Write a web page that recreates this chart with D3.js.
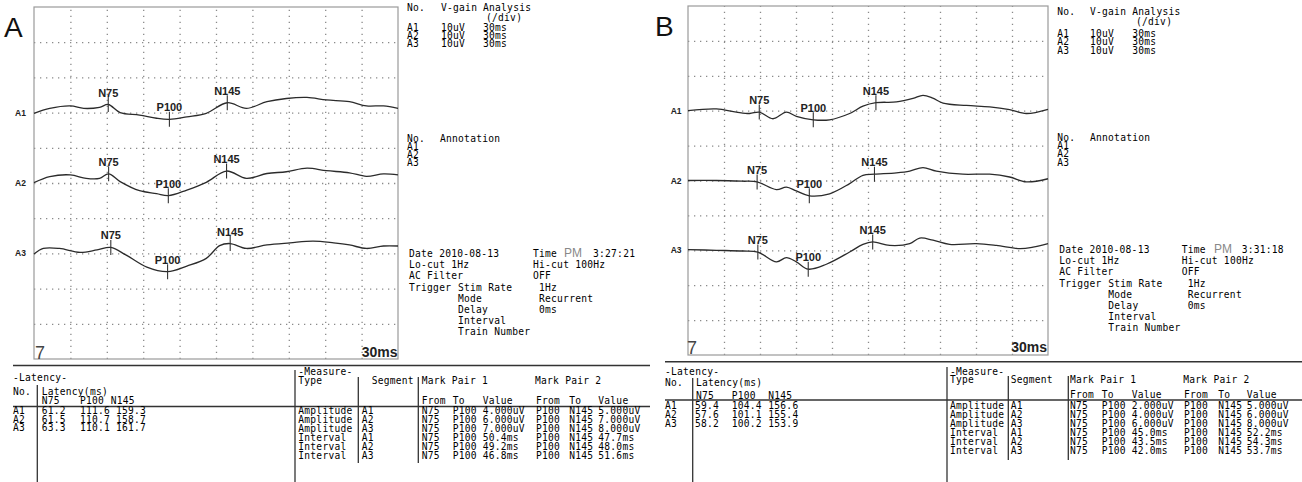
<!DOCTYPE html>
<html>
<head>
<meta charset="utf-8">
<script src="https://cdn.jsdelivr.net/npm/d3@7"></script>
<style>
  body { margin: 0; background: #fff; }
  svg { display: block; }
  .mono { font-family: "DejaVu Sans Mono", monospace; font-size: 9.6px; letter-spacing: 0.25px; fill: #000; }
  .peak { font-family: "Liberation Sans", Arial, sans-serif; font-size: 11px; font-weight: bold; fill: #222; }
  .chan { font-family: "Liberation Sans", Arial, sans-serif; font-size: 8.5px; font-weight: bold; fill: #222; }
</style>
</head>
<body>
<svg id="chart"></svg>
<script>
// ---- data ----
const channels = ["A1", "A2", "A3"]
const peakNames = ["N75", "P100", "N145"]
const divTicks = d3.range(0, 301, 30)      // 30 ms / div
const voltTicks = d3.range(-50, 51, 10)    // 10 uV / div
const channelOffset = [20, 0, -20]         // uV, baseline of each channel

// panel A traces (time ms, deflection uV, up = positive)
const tA1 = [0, 13, 30, 41, 54, 61.2, 71, 87, 101, 111.6, 126, 142, 159.3, 175, 192, 208, 225, 241, 260, 274, 288, 300]
const vA1 = [-0.2, 1.2, 1.9, 1.2, 1.5, 2.3, 0, -0.7, -1.6, -1.9, -1.2, -0.2, 2.8, 1.2, 3.1, 4.0, 4.3, 3.6, 3.1, 1.9, 1.9, 1.2]
const tA2 = [0, 13, 30, 43, 54, 61.5, 71, 87, 101, 110.7, 126, 142, 158.7, 175, 192, 208, 225, 241, 260, 274, 288, 300]
const vA2 = [0.1, 1.8, 2.3, 1.3, 1.3, 2.6, 0.4, -2.2, -3.0, -3.6, -2.0, 0.2, 3.4, 1.3, 2.7, 3.2, 4.2, 3.5, 2.9, 1.9, 2.6, 2.3]
const tA3 = [0, 7.7, 21, 38, 52, 63.3, 76, 93, 110.1, 126, 142, 153, 161.7, 175, 192, 211, 230, 247, 260, 274, 288, 300]
const vA3 = [-0.2, 1.4, 1.4, 0.3, 1.0, 1.7, -0.5, -3.9, -5.2, -3.6, -1.4, 2.2, 2.8, 1.4, 2.4, 3.0, 3.5, 3.0, 2.4, 1.4, 2.1, 2.1]

// panel B traces
const tB1 = [0, 23.7, 40.3, 51.4, 59.4, 70.8, 82, 90.3, 104.4, 118, 134.7, 145.8, 156.6, 173.7, 187.5, 195.8, 204, 212.5, 232, 251.4, 268, 282, 300]
const vB1 = [0, 0.5, -0.4, -0.8, -0.4, -2.3, -0.4, -1.6, -2.6, -2.6, -0.8, 1.3, 2.3, 2.5, 3.5, 4.4, 3.6, 2.2, 1.5, 1.1, 0.3, -0.8, 0.4]
const tB2 = [0, 23.7, 45, 57.6, 73.7, 82, 90.3, 101.1, 118, 134.7, 145.8, 155.4, 173.7, 184.8, 195.8, 207, 229, 251.4, 268, 282, 300]
const vB2 = [0, 0, -0.2, -0.4, -2.6, -1.9, -3.0, -4.4, -3.8, -0.9, 1.5, 1.8, 2.2, 2.7, 3.7, 2.7, 1.8, 1.8, 1.0, -0.4, 0.5]
const tB3 = [0, 23.7, 45.8, 58.2, 73.7, 82, 90.3, 100.2, 115.3, 134.7, 145.8, 153.9, 168.1, 184.8, 193.1, 204.2, 218, 240.3, 257, 276.4, 287.5, 300]
const vB3 = [0.2, 0, -0.2, -0.5, -3.3, -2.1, -3.3, -5.4, -4.0, -0.5, 1.7, 2.4, 1.4, 1.9, 3.5, 2.9, 1.7, 1.9, 1.4, 0.5, 0.9, 1.9]

// latency tables (ms)
const latencyA = [[61.2, 111.6, 159.3], [61.5, 110.7, 158.7], [63.3, 110.1, 161.7]]
const latencyB = [[59.4, 104.4, 156.6], [57.6, 101.1, 155.4], [58.2, 100.2, 153.9]]

// measure tables
const measureType = ["Amplitude", "Amplitude", "Amplitude", "Interval", "Interval", "Interval"]
const measureSeg = ["A1", "A2", "A3", "A1", "A2", "A3"]
const pair1A = ["4.000uV", "6.000uV", "7.000uV", "50.4ms", "49.2ms", "46.8ms"]
const pair2A = ["5.000uV", "7.000uV", "8.000uV", "47.7ms", "48.0ms", "51.6ms"]
const pair1B = ["2.000uV", "4.000uV", "6.000uV", "45.0ms", "43.5ms", "42.0ms"]
const pair2B = ["5.000uV", "6.000uV", "8.000uV", "52.2ms", "54.3ms", "53.7ms"]

const vGain = ["10uV", "10uV", "10uV"]
const analysis = ["30ms", "30ms", "30ms"]
const recDate = ["2010-08-13", "2010-08-13"]
const recTime = ["3:27:21", "3:31:18"]
const triggerKeys = ["Stim Rate", "Mode", "Delay", "Interval", "Train Number"]
const triggerVals = ["1Hz", "Recurrent", "0ms", "", ""]

// ---- layout ----
const W = 1302, H = 482
const svg = d3.select("#chart").attr("width", W).attr("height", H)

const panels = [
  {
    letter: "A", traces: [[tA1, vA1], [tA2, vA2], [tA3, vA3]], latency: latencyA, pair1: pair1A, pair2: pair2A,
    date: recDate[0], time: recTime[0],
    grid: { x0: 34, x1: 398, y0: 7, y1: 359 }, letterPos: [4, 37], chanX: 15,
    info: { c0: 407, c1: 441, c2: 483, div: 486, head: 11, divY: 20.5, rows: [30.5, 38.8, 47] },
    annot: { c0: 407, c1: 440, rows: [142, 150, 158, 166] },
    dateBlk: { c0: 409, c1: 458, c2: 533, c3: 539, pm: 564, tm: 593, y: 257, dy: 11.2 },
    sep: { y: 365.5, x0: 13, x1: 650 },
    lat: { x: 13, title: 381, head: 394.5, col: [41.7, 80, 110.7], colV: [41.7, 80, 116], sub: 404, line: 406.5, lineX: [13, 650], rows: [414, 422.5, 431], vx: 37.3, vy: 385 },
    divider: { x: 295, y: 370 },
    meas: { x: 298.3, title: 375, head: 384, seg: 371.7, segV: 361.7, mp1: 421.7, mp2: 535, cols: [421.7, 452.7, 482.7, 536, 569.3, 598.3], sub: 403.7, row0: 414, dy: 9, v1: 358.3, v2: 418.3, vy: [377, 463] },
    seven: [35, 359], scale: [397.5, 356.5]
  },
  {
    letter: "B", traces: [[tB1, vB1], [tB2, vB2], [tB3, vB3]], latency: latencyB, pair1: pair1B, pair2: pair2B,
    date: recDate[1], time: recTime[1],
    grid: { x0: 688, x1: 1048, y0: 6, y1: 355 }, letterPos: [655, 36], chanX: 670.7,
    info: { c0: 1057.3, c1: 1090, c2: 1132.3, div: 1136, head: 14.5, divY: 24.5, rows: [37, 45.3, 53.6] },
    annot: { c0: 1057.3, c1: 1090, rows: [140.7, 149, 157.3, 165.5] },
    dateBlk: { c0: 1059.3, c1: 1108.3, c2: 1181.7, c3: 1187.7, pm: 1214, tm: 1241.7, y: 253, dy: 11.2 },
    sep: { y: 361.7, x0: 665, x1: 1302 },
    lat: { x: 665, title: 375, head: 385.7, col: [696, 731.7, 768.3], colV: [695, 731.7, 768.3], sub: 398.5, line: 400, lineX: [665, 1302], rows: [409, 418, 427], vx: 692.7, vy: 378 },
    divider: { x: 947, y: 367 },
    meas: { x: 950, title: 375, head: 383, seg: 1010.7, segV: 1010.7, mp1: 1070, mp2: 1183.3, cols: [1070, 1101.7, 1131.7, 1184, 1218.3, 1246.7], sub: 398, row0: 408.5, dy: 9.1, v1: 1008.3, v2: 1068.3, vy: [376, 460] },
    seven: [687, 354], scale: [1047, 351.7]
  }
]

const txt = (g, x, y, s, cls = "mono") => g.append("text").attr("class", cls).attr("x", x).attr("y", y).text(s)
const hline = (g, x0, x1, y, w = 1.3) => g.append("line").attr("x1", x0).attr("x2", x1).attr("y1", y).attr("y2", y).attr("stroke", "#333").attr("stroke-width", w)
const vline = (g, x, y0, y1, w = 1.3) => g.append("line").attr("x1", x).attr("x2", x).attr("y1", y0).attr("y2", y1).attr("stroke", "#333").attr("stroke-width", w)

panels.forEach(p => {
  const g = svg.append("g")
  const { x0, x1, y0, y1 } = p.grid
  const x = d3.scaleLinear().domain([0, 300]).range([x0, x1])
  const y = d3.scaleLinear().domain([50, -50]).range([y0, y1])

  // dotted grid
  const gx = g.append("g").attr("transform", `translate(0,${y1})`)
    .call(d3.axisBottom(x).tickValues(divTicks.slice(1, -1)).tickSize(-(y1 - y0)).tickFormat(""))
  const gy = g.append("g").attr("transform", `translate(${x0},0)`)
    .call(d3.axisLeft(y).tickValues(voltTicks.slice(1, -1)).tickSize(-(x1 - x0)).tickFormat(""))
  ;[gx, gy].forEach(a => {
    a.select(".domain").remove()
    a.selectAll(".tick line").attr("stroke", "#8a8a8a").attr("stroke-width", 1.3).attr("stroke-dasharray", "1.3,4.7")
  })
  g.append("rect").attr("x", x0).attr("y", y0).attr("width", x1 - x0).attr("height", y1 - y0)
    .attr("fill", "none").attr("stroke", "#9a9a9a").attr("stroke-width", 1.2)

  // traces
  const line = d3.line().curve(d3.curveCatmullRom.alpha(0.5))
  p.traces.forEach(([ts, vs], ci) => {
    const pts = ts.map((t, i) => [x(t), y(channelOffset[ci] + vs[i])])
    g.append("path").attr("d", line(pts)).attr("fill", "none").attr("stroke", "#2b2b2b").attr("stroke-width", 1.3)
    txt(g, p.chanX, y(channelOffset[ci]) + 3, channels[ci], "chan")

    p.latency[ci].forEach((lat, k) => {
      const idx = ts.indexOf(lat)
      const py = y(channelOffset[ci] + vs[idx])
      vline(g, x(lat), py - 7.5, py + 7.5, 1.1)
      txt(g, x(lat), py - 8, peakNames[k], "peak").attr("text-anchor", "middle")
    })
  })

  // corner marks
  g.append("text").attr("x", p.seven[0]).attr("y", p.seven[1]).text("7")
    .style("font-family", "Liberation Sans, Arial, sans-serif").style("font-size", "18px").style("fill", "#444")
  g.append("text").attr("x", p.scale[0]).attr("y", p.scale[1]).attr("text-anchor", "end").text(divTicks[1] + "ms")
    .style("font-family", "Liberation Sans, Arial, sans-serif").style("font-size", "14px").style("font-weight", "bold").style("fill", "#222")

  // panel letter
  g.append("text").attr("x", p.letterPos[0]).attr("y", p.letterPos[1]).text(p.letter)
    .style("font-family", "Liberation Sans, Arial, sans-serif").style("font-size", "28px").style("fill", "#111")

  // info block
  const inf = p.info
  txt(g, inf.c0, inf.head, "No.")
  txt(g, inf.c1, inf.head, "V-gain")
  txt(g, inf.c2, inf.head, "Analysis")
  txt(g, inf.div, inf.divY, "(/div)")
  channels.forEach((c, i) => {
    txt(g, inf.c0, inf.rows[i], c)
    txt(g, inf.c1, inf.rows[i], vGain[i])
    txt(g, inf.c2, inf.rows[i], analysis[i])
  })
  const an = p.annot
  txt(g, an.c0, an.rows[0], "No.")
  txt(g, an.c1, an.rows[0], "Annotation")
  channels.forEach((c, i) => txt(g, an.c0, an.rows[i + 1], c))

  // recording settings
  const d = p.dateBlk
  txt(g, d.c0, d.y, "Date " + p.date)
  txt(g, d.c2, d.y, "Time")
  g.append("text").attr("x", d.pm).attr("y", d.y).text("PM")
    .style("font-family", "Liberation Sans, Arial, sans-serif").style("font-size", "12px").style("fill", "#888")
  txt(g, d.tm, d.y, p.time)
  txt(g, d.c0, d.y + d.dy, "Lo-cut 1Hz")
  txt(g, d.c2, d.y + d.dy, "Hi-cut 100Hz")
  txt(g, d.c0, d.y + 2 * d.dy, "AC Filter")
  txt(g, d.c2, d.y + 2 * d.dy, "OFF")
  txt(g, d.c0, d.y + 3 * d.dy, "Trigger")
  triggerKeys.forEach((k, i) => {
    txt(g, d.c1, d.y + (3 + i) * d.dy, k)
    if (triggerVals[i]) txt(g, d.c3, d.y + (3 + i) * d.dy, triggerVals[i])
  })

  // separator
  hline(g, p.sep.x0, p.sep.x1, p.sep.y, 1.6)

  // latency table
  const L = p.lat
  txt(g, L.x, L.title, "-Latency-")
  txt(g, L.x, L.head, "No.")
  txt(g, L.col[0], L.head, "Latency(ms)")
  peakNames.forEach((n, k) => txt(g, L.col[k], L.sub, n))
  hline(g, L.lineX[0], L.lineX[1], L.line)
  vline(g, L.vx, L.vy, H)
  channels.forEach((c, i) => {
    txt(g, L.x, L.rows[i], c)
    p.latency[i].forEach((v, k) => txt(g, L.colV[k], L.rows[i], v.toFixed(1)))
  })
  vline(g, p.divider.x, p.divider.y, H)

  // measure table
  const M = p.meas
  txt(g, M.x, M.title, "-Measure-")
  txt(g, M.x, M.head, "Type")
  txt(g, M.seg, M.head, "Segment")
  txt(g, M.mp1, M.head, "Mark Pair 1")
  txt(g, M.mp2, M.head, "Mark Pair 2")
  ;["From", "To", "Value", "From", "To", "Value"].forEach((s, k) => txt(g, M.cols[k], M.sub, s))
  vline(g, M.v1, M.vy[0], M.vy[1])
  vline(g, M.v2, M.vy[0], M.vy[1])
  measureType.forEach((t, i) => {
    const ry = M.row0 + i * M.dy
    txt(g, M.x, ry, t)
    txt(g, M.segV, ry, measureSeg[i])
    const pr1 = [peakNames[0], peakNames[1], p.pair1[i]]
    const pr2 = [peakNames[1], peakNames[2], p.pair2[i]]
    pr1.concat(pr2).forEach((s, k) => txt(g, M.cols[k], ry, s))
  })
})
</script>
</body>
</html>
